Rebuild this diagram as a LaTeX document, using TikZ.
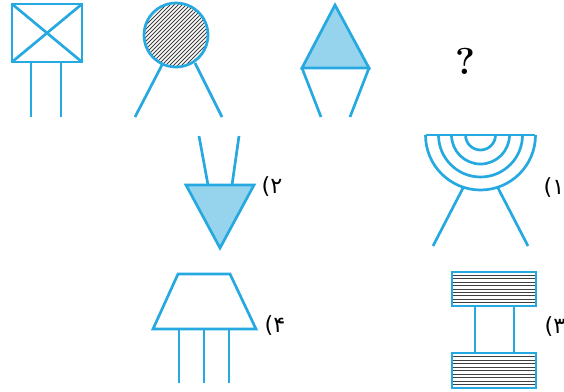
\documentclass[tikz,border=0pt]{standalone}
\usepackage{fontspec}
\newfontfamily\arabicfont[Script=Arabic]{DejaVu Sans}
\definecolor{symblue}{RGB}{38,168,224}
\definecolor{symfillc}{RGB}{150,212,238}
\tikzset{
  symline/.style={draw=symblue,line width=2.3pt,line join=miter},
  symfill/.style={symline,fill=symfillc},
  hatchline/.style={black!75,line width=0.7pt},
  optlabel/.style={font=\arabicfont\fontsize{19}{22}\selectfont,inner sep=0pt}
}

\begin{document}
\begin{tikzpicture}[x=0.03cm,y=-0.03cm]
\useasboundingbox (0,0) rectangle (564,391);
% row 1: box with cross
\draw[symline] (12,4) rectangle (82,62);
\draw[symline] (12,4) -- (82,62) (82,4) -- (12,62);
\draw[symline] (31,62) -- (31,117) (61,62) -- (61,117);
% hatched circle
\begin{scope}
\clip (176,35) circle[radius=32];
\foreach \d in {-72,-68,...,72}
  \draw[hatchline] (176+\d-40,75) -- (176+\d+40,-5);
\end{scope}
\draw[symline] (176,35) circle[radius=32];
\draw[symline] (162,65) -- (135,117) (195,63) -- (222,117);
% triangle
\draw[symfill] (335,5) -- (369,68) -- (302,68) -- cycle;
\draw[symline] (302,68) -- (321,117) (369,68) -- (350,117);
\node[font=\fontsize{32}{36}\selectfont\bfseries,inner sep=0pt] (qmark) at (465,61) {?};
% option 2
\draw[symline] (199,136) -- (208,185) (239,136) -- (232,185);
\draw[symfill] (186,185) -- (254,185) -- (220,248) -- cycle;
\node[optlabel] (lbltwo) at (272,187) {۲)};
% option 1
\draw[symline] (426,135) -- (535,135);
\foreach \r in {55,42,29,15}
  \draw[symline] (480.5-\r,135) arc[start angle=180,end angle=0,radius=\r];
\draw[symline] (463,188) -- (433,246) (498,188) -- (528,246);
\node[optlabel] (lblone) at (554,188) {۱)};
% option 4
\draw[symline] (178,274) -- (230,274) -- (256,329) -- (153,329) -- cycle;
\draw[symline] (179,329) -- (179,383) (204,329) -- (204,383) (229,329) -- (229,383);
\node[optlabel] (lblfour) at (275,326) {۴)};
% option 3
\foreach \k in {1,...,9} {
  \draw[hatchline] (452,272+3.4*\k) -- (536,272+3.4*\k);
  \draw[hatchline] (452,353+3.5*\k) -- (536,353+3.5*\k);
}
\draw[symline] (452,272) rectangle (536,306);
\draw[symline] (475,306) rectangle (514,353);
\draw[symline] (452,353) rectangle (536,388);
\node[optlabel] (lblthree) at (555,327) {۳)};
\end{tikzpicture}
\end{document}
